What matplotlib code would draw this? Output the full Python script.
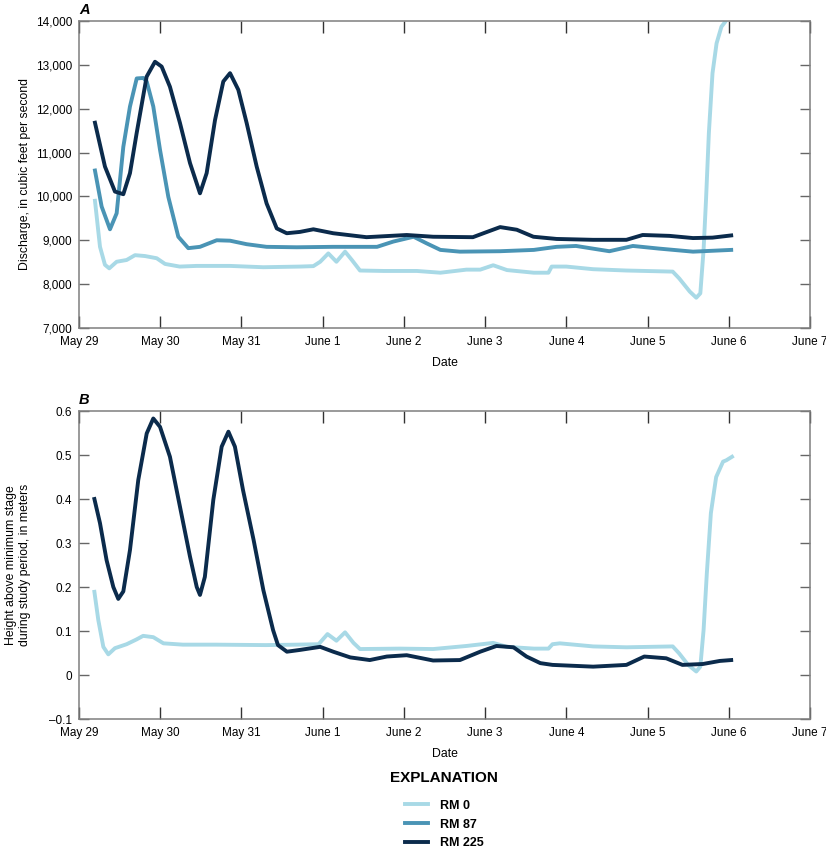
import matplotlib
matplotlib.use("Agg")
import matplotlib.pyplot as plt
from matplotlib.ticker import FuncFormatter

plt.rcParams['font.family'] = ['Liberation Sans', 'DejaVu Sans']

# days since May 29, 00:00
day_labels = ["May 29", "May 30", "May 31", "June 1", "June 2", "June 3",
              "June 4", "June 5", "June 6", "June 7"]

# --- panel A: discharge, cubic feet per second ---
rm0_q_days = [0.197, 0.259, 0.32, 0.373, 0.464, 0.587, 0.69, 0.813, 0.957, 1.06,
              1.24, 1.45, 1.86, 2.27, 2.72, 2.886, 2.97, 3.07, 3.17, 3.276, 3.36,
              3.46, 3.75, 4.16, 4.45, 4.77, 4.94, 5.1, 5.27, 5.6, 5.78, 5.82, 6.0,
              6.33, 6.74, 7.31, 7.39, 7.52, 7.6, 7.65, 7.69, 7.72, 7.755, 7.80,
              7.85, 7.91, 7.96, 8.03]
rm0_q = [9900, 8850, 8440, 8360, 8510, 8550, 8660, 8640, 8590, 8460,
         8400, 8415, 8415, 8385, 8400, 8410, 8510, 8700, 8510, 8740, 8550,
         8310, 8300, 8300, 8260, 8330, 8330, 8430, 8320, 8260, 8260, 8400, 8400,
         8340, 8310, 8285, 8130, 7830, 7690, 7790, 8780, 9920, 11440, 12810,
         13490, 13870, 13990, 14300]

rm87_q_days = [0.197, 0.279, 0.382, 0.464, 0.546, 0.628, 0.711, 0.792, 0.834,
               0.915, 0.998, 1.1, 1.223, 1.346, 1.49, 1.696, 1.86, 2.065, 2.31,
               2.68, 3.13, 3.67, 3.87, 4.12, 4.28, 4.45, 4.69, 5.185, 5.6, 5.88,
               6.12, 6.53, 6.82, 7.14, 7.56, 8.03]
rm87_q = [10590, 9770, 9250, 9615, 11130, 12050, 12690, 12700, 12620,
          12050, 11060, 9990, 9080, 8820, 8850, 9000, 8990, 8910, 8850,
          8840, 8850, 8850, 8970, 9080, 8930, 8780, 8740, 8750, 8780, 8850,
          8870, 8750, 8870, 8810, 8740, 8780]

rm225_q_days = [0.197, 0.32, 0.443, 0.546, 0.628, 0.71, 0.833, 0.936, 1.018,
                1.12, 1.244, 1.367, 1.49, 1.572, 1.675, 1.777, 1.86, 1.962,
                2.065, 2.188, 2.31, 2.435, 2.558, 2.72, 2.886, 3.13, 3.54,
                4.035, 4.36, 4.85, 4.98, 5.185, 5.39, 5.595, 5.88, 6.33, 6.74,
                6.94, 7.27, 7.56, 7.80, 8.03]
rm225_q = [11680, 10680, 10110, 10050, 10530, 11440, 12730, 13070, 12960,
           12500, 11670, 10760, 10070, 10530, 11740, 12620, 12810, 12430,
           11670, 10680, 9840, 9270, 9160, 9190, 9250, 9160, 9070,
           9120, 9080, 9070, 9160, 9300, 9240, 9080, 9030, 9010, 9010,
           9120, 9100, 9050, 9060, 9110]

# --- panel B: height above minimum stage, meters ---
rm0_h_days = [0.19, 0.238, 0.3, 0.361, 0.443, 0.587, 0.71, 0.79, 0.915, 1.04,
              1.28, 1.69, 2.3, 2.68, 2.95, 3.06, 3.17, 3.276, 3.38, 3.46, 3.95,
              4.36, 4.77, 5.1, 5.27, 5.6, 5.78, 5.83, 5.92, 6.33, 6.74, 7.31,
              7.39, 7.5, 7.6, 7.65, 7.69, 7.73, 7.78, 7.845, 7.93, 7.97, 8.04]
rm0_h = [0.189, 0.125, 0.064, 0.047, 0.061, 0.070, 0.081, 0.089, 0.086, 0.072,
         0.069, 0.069, 0.068, 0.069, 0.070, 0.093, 0.078, 0.097, 0.073, 0.059, 0.060,
         0.059, 0.066, 0.073, 0.064, 0.060, 0.060, 0.070, 0.072, 0.065, 0.063, 0.065,
         0.049, 0.023, 0.008, 0.019, 0.102, 0.231, 0.368, 0.450, 0.485, 0.488, 0.496]

rm225_h_days = [0.19, 0.259, 0.34, 0.423, 0.484, 0.546, 0.628, 0.73, 0.834,
                0.915, 0.998, 1.12, 1.244, 1.367, 1.45, 1.49, 1.55, 1.654,
                1.757, 1.84, 1.92, 2.02, 2.15, 2.27, 2.39, 2.45, 2.56, 2.72,
                2.97, 3.13, 3.34, 3.58, 3.79, 4.035, 4.36, 4.69, 4.94, 5.14,
                5.35, 5.51, 5.68, 5.83, 6.33, 6.74, 6.96, 7.23, 7.43, 7.68,
                7.89, 8.03]
rm225_h = [0.400, 0.345, 0.261, 0.200, 0.173, 0.190, 0.284, 0.443, 0.549,
           0.583, 0.564, 0.496, 0.382, 0.269, 0.200, 0.182, 0.223, 0.398,
           0.519, 0.553, 0.519, 0.420, 0.307, 0.193, 0.102, 0.068, 0.053, 0.057,
           0.064, 0.053, 0.040, 0.034, 0.042, 0.045, 0.033, 0.034, 0.053, 0.066,
           0.063, 0.042, 0.027, 0.023, 0.019, 0.023, 0.042, 0.038, 0.023, 0.025,
           0.032, 0.034]

c_rm0 = "#a8d9e6"
c_rm87 = "#4a94b5"
c_rm225 = "#0b2b4c"
lw = 2.8

fig = plt.figure(figsize=(8.26, 8.49), dpi=100)
ax_a = fig.add_axes([0.0956, 0.6137, 0.885, 0.3616])
ax_b = fig.add_axes([0.0956, 0.1531, 0.885, 0.3628])

ax_a.plot(rm0_q_days, rm0_q, color=c_rm0, lw=lw, label="RM 0")
ax_a.plot(rm87_q_days, rm87_q, color=c_rm87, lw=lw, label="RM 87")
ax_a.plot(rm225_q_days, rm225_q, color=c_rm225, lw=lw, label="RM 225")

ax_b.plot(rm0_h_days, rm0_h, color=c_rm0, lw=lw)
ax_b.plot(rm225_h_days, rm225_h, color=c_rm225, lw=lw)

ax_a.set_ylim(7000, 14000)
ax_a.set_yticks(range(7000, 14001, 1000))
ax_a.yaxis.set_major_formatter(FuncFormatter(lambda v, p: f"{v:,.0f}"))
ax_a.set_ylabel("Discharge, in cubic feet per second", fontsize=8.8)
ax_a.yaxis.set_label_coords(-0.065, 0.5)

ax_b.set_ylim(-0.1, 0.6)
ax_b.set_yticks([-0.1, 0, 0.1, 0.2, 0.3, 0.4, 0.5, 0.6])
ax_b.yaxis.set_major_formatter(
    FuncFormatter(lambda v, p: "0" if abs(v) < 1e-9 else f"{v:.1f}".replace("-", "\u2013")))
ax_b.set_ylabel("Height above minimum stage\nduring study period, in meters",
                fontsize=8.8, linespacing=1.3)
ax_b.yaxis.set_label_coords(-0.065, 0.5)

for ax, letter in [(ax_a, "A"), (ax_b, "B")]:
    ax.set_xlim(0, 9)
    ax.set_xticks(range(10))
    ax.set_xticklabels(day_labels)
    ax.set_xlabel("Date", fontsize=8.8, labelpad=6)
    ax.tick_params(axis="x", direction="in", length=8.5, width=1, color="#333333",
                   top=True, labelsize=8.5, pad=6)
    ax.tick_params(axis="y", direction="in", length=7, width=1, color="#666666",
                   right=True, labelsize=8.5, pad=5)
    for s in ax.spines.values():
        s.set_color("#7f7f7f")
        s.set_linewidth(1.1)
    ax.text(0.0, 1.012, letter, transform=ax.transAxes, fontsize=10.5,
            fontweight="bold", fontstyle="italic", ha="left", va="bottom")

fig.text(0.538, 1 - 778 / 849, "EXPLANATION", fontsize=11, fontweight="bold",
         ha="center", va="center")
leg = fig.legend(handles=ax_a.get_lines(), loc="upper center",
                 bbox_to_anchor=(0.538, 1 - 791 / 849), frameon=False, fontsize=9,
                 handlelength=1.8, handletextpad=1.0, labelspacing=0.55,
                 borderpad=0.2)
for t in leg.get_texts():
    t.set_fontweight("bold")

fig.savefig("out.png", dpi=100)
